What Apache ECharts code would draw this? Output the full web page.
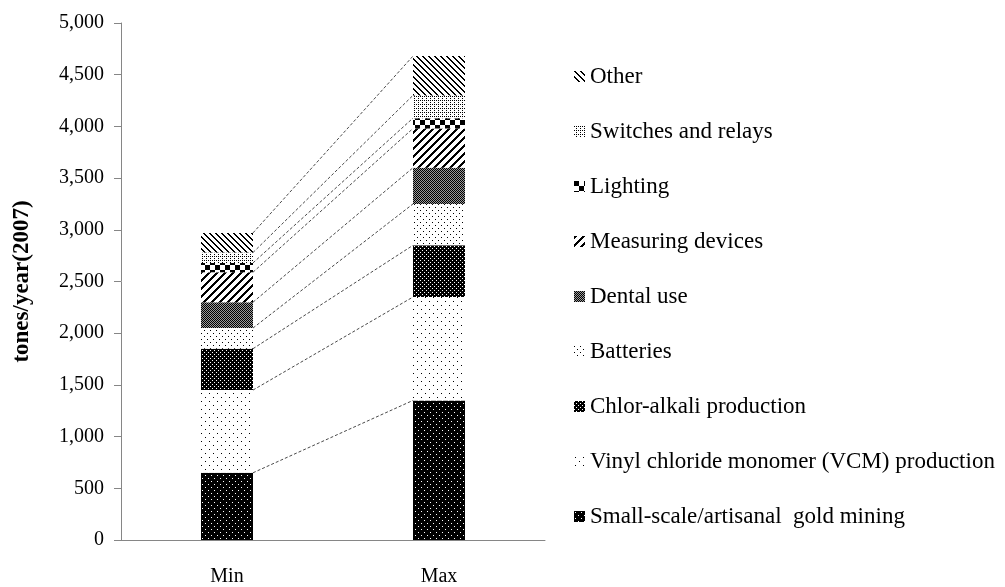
<!DOCTYPE html>
<html>
<head>
<meta charset="utf-8">
<script src="https://cdn.jsdelivr.net/npm/echarts@6/dist/echarts.min.js"></script>
<style>
html,body{margin:0;padding:0;background:#fff;}
#chart{width:1005px;height:587px;}
</style>
</head>
<body>
<div id="chart"></div>
<script>
// ---- data ----
const categories = ['Min', 'Max'];
const seriesNames = [
  'Small-scale/artisanal  gold mining',
  'Vinyl chloride monomer (VCM) production',
  'Chlor-alkali production',
  'Batteries',
  'Dental use',
  'Measuring devices',
  'Lighting',
  'Switches and relays',
  'Other'
];
const goldMining = [650, 1350];
const vcmProduction = [800, 1000];
const chlorAlkali = [400, 500];
const batteries = [200, 400];
const dentalUse = [250, 350];
const measuringDevices = [290, 380];
const lighting = [90, 100];
const switchesRelays = [100, 220];
const other = [190, 380];
const yMin = 0, yMax = 5000, yInterval = 500;
const yAxisName = 'tones/year(2007)';

const seriesValues = [goldMining, vcmProduction, chlorAlkali, batteries, dentalUse,
  measuringDevices, lighting, switchesRelays, other];

// ---- patterns ----
function tile(w, h, bg, fg, test) {
  const c = document.createElement('canvas');
  c.width = w; c.height = h;
  const ctx = c.getContext('2d');
  ctx.fillStyle = bg; ctx.fillRect(0, 0, w, h);
  ctx.fillStyle = fg;
  for (let y = 0; y < h; y++) for (let x = 0; x < w; x++) if (test(x, y)) ctx.fillRect(x, y, 1, 1);
  return { image: c, repeat: 'repeat' };
}
const patterns = [
  tile(6, 6, '#000', '#fff', (x, y) => (x === 1 && y === 1) || (x === 4 && y === 4)),
  tile(8, 8, '#fff', '#000', (x, y) => (x === 1 && y === 1) || (x === 5 && y === 5)),
  tile(4, 4, '#000', '#fff', (x, y) => (x === 0 && y === 0) || (x === 2 && y === 2)),
  tile(6, 6, '#fff', '#000', (x, y) => (x === 0 && y === 0) || (x === 3 && y === 3)),
  tile(2, 2, '#9a9a9a', '#000', (x, y) => (x + y) % 2 === 0),
  tile(8, 8, '#fff', '#000', (x, y) => (x + y) % 8 < 3),
  tile(10, 10, '#fff', '#000', (x, y) => (x < 5 && y < 5) || (x >= 5 && y >= 5)),
  tile(4, 4, '#fff', '#000', (x, y) => (x === 0 && y === 0) || (x === 2 && y === 2) || (x === 2 && y === 0)),
  tile(6, 6, '#fff', '#000', (x, y) => ((x - y) % 6 + 6) % 6 < 2)
];

// cumulative tops for connector lines
const connectorData = [];
let cMin = 0, cMax = 0;
seriesValues.forEach(v => { cMin += v[0]; cMax += v[1]; connectorData.push([0, cMin, cMax]); });

const BAR_W = 52;
const barSeries = seriesNames.map((name, i) => ({
  name: name,
  type: 'bar',
  stack: 'total',
  barWidth: BAR_W,
  itemStyle: { color: patterns[i] },
  emphasis: { disabled: true },
  data: seriesValues[i]
}));

const connectorSeries = {
  type: 'custom',
  name: 'connectors',
  silent: true,
  z: 1,
  data: connectorData,
  renderItem: function (params, api) {
    const p0 = api.coord([0, api.value(1)]);
    const p1 = api.coord([1, api.value(2)]);
    return {
      type: 'line',
      shape: { x1: p0[0] + BAR_W / 2, y1: p0[1], x2: p1[0] - BAR_W / 2, y2: p1[1] },
      style: { stroke: '#4a4a4a', lineWidth: 1, lineDash: [3, 2] }
    };
  }
};

const chart = echarts.init(document.getElementById('chart'), null, { renderer: 'canvas' });
chart.setOption({
  animation: false,
  backgroundColor: '#fff',
  textStyle: { fontFamily: 'Liberation Serif' },
  grid: { left: 121, right: 460, top: 23, bottom: 44, containLabel: false },
  legend: {
    orient: 'vertical',
    left: 569,
    top: 60,
    itemWidth: 11,
    itemHeight: 11,
    itemGap: 32,
    icon: 'rect',
    selectedMode: false,
    data: seriesNames.slice().reverse(),
    textStyle: { fontFamily: 'Liberation Serif', fontSize: 23, color: '#000', lineHeight: 23 }
  },
  xAxis: {
    type: 'category',
    data: categories,
    axisLine: { lineStyle: { color: '#868686', width: 1 } },
    axisTick: { show: false },
    axisLabel: { fontFamily: 'Liberation Serif', fontSize: 20, color: '#000', margin: 27 }
  },
  yAxis: {
    type: 'value',
    min: yMin,
    max: yMax,
    interval: yInterval,
    name: yAxisName,
    nameLocation: 'middle',
    nameRotate: 90,
    nameGap: 87,
    nameTextStyle: { fontFamily: 'Liberation Serif', fontSize: 23, fontWeight: 'bold', color: '#000' },
    splitLine: { show: false },
    axisLine: { show: true, lineStyle: { color: '#868686', width: 1 } },
    axisTick: { show: true, length: 7, lineStyle: { color: '#868686' } },
    axisLabel: {
      fontFamily: 'Liberation Serif', fontSize: 20, color: '#000', margin: 17,
      formatter: v => String(v).replace(/\B(?=(\d{3})+(?!\d))/g, ',')
    }
  },
  series: barSeries.concat([connectorSeries])
});
</script>
</body>
</html>
